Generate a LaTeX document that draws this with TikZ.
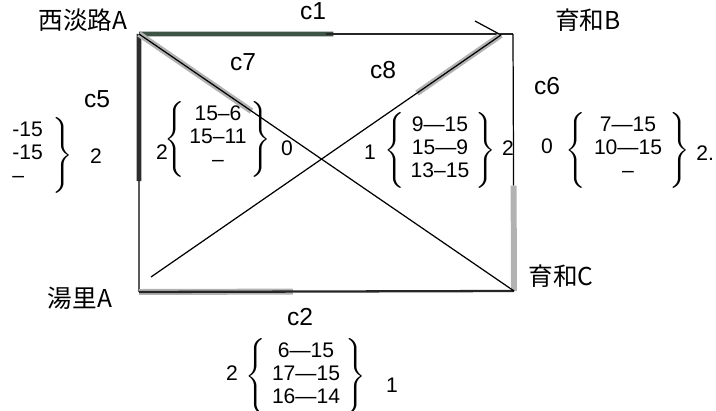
\documentclass[tikz,border=0pt]{standalone}
\usepackage{exscale}
\usepackage{fontspec}
\setmainfont{Liberation Sans}
\newfontfamily\jpfont{Noto Sans CJK JP}
\usetikzlibrary{positioning, calc}
\renewcommand{\arraystretch}{0.9}
\definecolor{edgegreen}{RGB}{62,82,70}

\begin{document}
\begin{tikzpicture}[x=0.02cm, y=-0.02cm, node distance=0.15cm,
  edge/.style={line width=1.3pt, black!85},
  thin edge/.style={line width=0.7pt, black},
  heavy/.style={line width=2.6pt, edgegreen},
  shade/.style={line width=3.4pt, gray!60},
  place/.style={font=\jpfont\fontsize{14}{16}\selectfont},
  route/.style={font=\fontsize{14}{16}\selectfont},
  nums/.style={font=\fontsize{12}{14.5}\selectfont, inner sep=0pt},
  curly/.style={font=\fontsize{15}{15}\selectfont, inner sep=0pt},
  count/.style={font=\fontsize{12}{14.5}\selectfont, inner sep=0pt}]
  \useasboundingbox (0,0) rectangle (716,411);

  % Frame corners
  \coordinate (tl) at (139,34);
  \coordinate (tr) at (513,34);
  \coordinate (br) at (514,291);
  \coordinate (bl) at (139,292);
  \coordinate (c8s) at (151,277);
  \coordinate (c8e) at (501,35);
  \coordinate (tick) at (475,21);

  % Frame edges with highlighted parts
  \draw[heavy] (tl) -- ($(tl)!0.52!(tr)$);
  \draw[edge] ($(tl)!0.5!(tr)$) -- (tr);
  \draw[heavy, gray!35!black] (tl) -- ($(tl)!0.57!(bl)$);
  \draw[thin edge] ($(tl)!0.57!(bl)$) -- (bl);
  \draw[thin edge] (tr) -- ($(tr)!0.59!(br)$);
  \draw[shade] ($(tr)!0.59!(br)$) -- (br);
  \draw[shade] (bl) -- ($(bl)!0.41!(br)$);
  \draw[edge] (bl) -- (br);

  % Diagonals
  \draw[shade] (tl) -- ($(tl)!0.3!(br)$);
  \draw[thin edge] (tl) -- (br);
  \draw[shade] ($(c8s)!0.76!(c8e)$) -- (c8e);
  \draw[thin edge] (c8s) -- (c8e);
  \draw[thin edge] (tick) -- (c8e);

  % Station names
  \node[place] (nishi) at (83,20) {西淡路A};
  \node[place] (yuwaB) at (588,20) {育和B};
  \node[place] (yuwaC) at (561,276) {育和C};
  \node[place] (yuri) at (80,298) {湯里A};

  % Route labels
  \node[route] (c1) at (313,11) {c1};
  \node[route] (c7) at (243,62) {c7};
  \node[route] (c8) at (383,70) {c8};
  \node[route] (c6) at (547,86) {c6};
  \node[route] (c5) at (97,99) {c5};
  \node[route] (c2) at (300,317) {c2};

  % Score groups
  \node[nums, anchor=west] (s5) at (12,155)
    {\begin{tabular}{@{}l@{}}-15\\-15\\–\end{tabular}};
  \node[curly, right=5pt of s5] (s5b) {$\Bigg\}$};
  \node[count] (s5r) at (96,156) {2};

  \node[nums] (s7) at (218,139)
    {\begin{tabular}{@{}c@{}}15–6\\15–11\\–\end{tabular}};
  \node[curly, left=2pt of s7] (s7a) {$\Bigg\{$};
  \node[curly, right=2pt of s7] (s7b) {$\Bigg\}$};
  \node[count] (s7l) at (162,152) {2};
  \node[count] (s7r) at (287,148) {0};

  \node[nums] (s8) at (440,150)
    {\begin{tabular}{@{}c@{}}9—15\\15—9\\13–15\end{tabular}};
  \node[curly, left=3pt of s8] (s8a) {$\Bigg\{$};
  \node[curly, right=3pt of s8] (s8b) {$\Bigg\}$};
  \node[count] (s8l) at (370,152) {1};
  \node[count] (s8r) at (508,148) {2};

  \node[nums] (s6) at (628,150)
    {\begin{tabular}{@{}c@{}}7—15\\10—15\\–\end{tabular}};
  \node[curly, left=4pt of s6] (s6a) {$\Bigg\{$};
  \node[curly, right=4pt of s6] (s6b) {$\Bigg\}$};
  \node[count] (s6l) at (547,146) {0};
  \node[count, anchor=west] (s6r) at (696,153) {2.};

  \node[nums] (s2) at (306,376)
    {\begin{tabular}{@{}c@{}}6—15\\17—15\\16—14\end{tabular}};
  \node[curly, left=3pt of s2] (s2a) {$\Bigg\{$};
  \node[curly, right=3pt of s2] (s2b) {$\Bigg\}$};
  \node[count] (s2l) at (232,373) {2};
  \node[count] (s2r) at (392,385) {1};
\end{tikzpicture}
\end{document}
